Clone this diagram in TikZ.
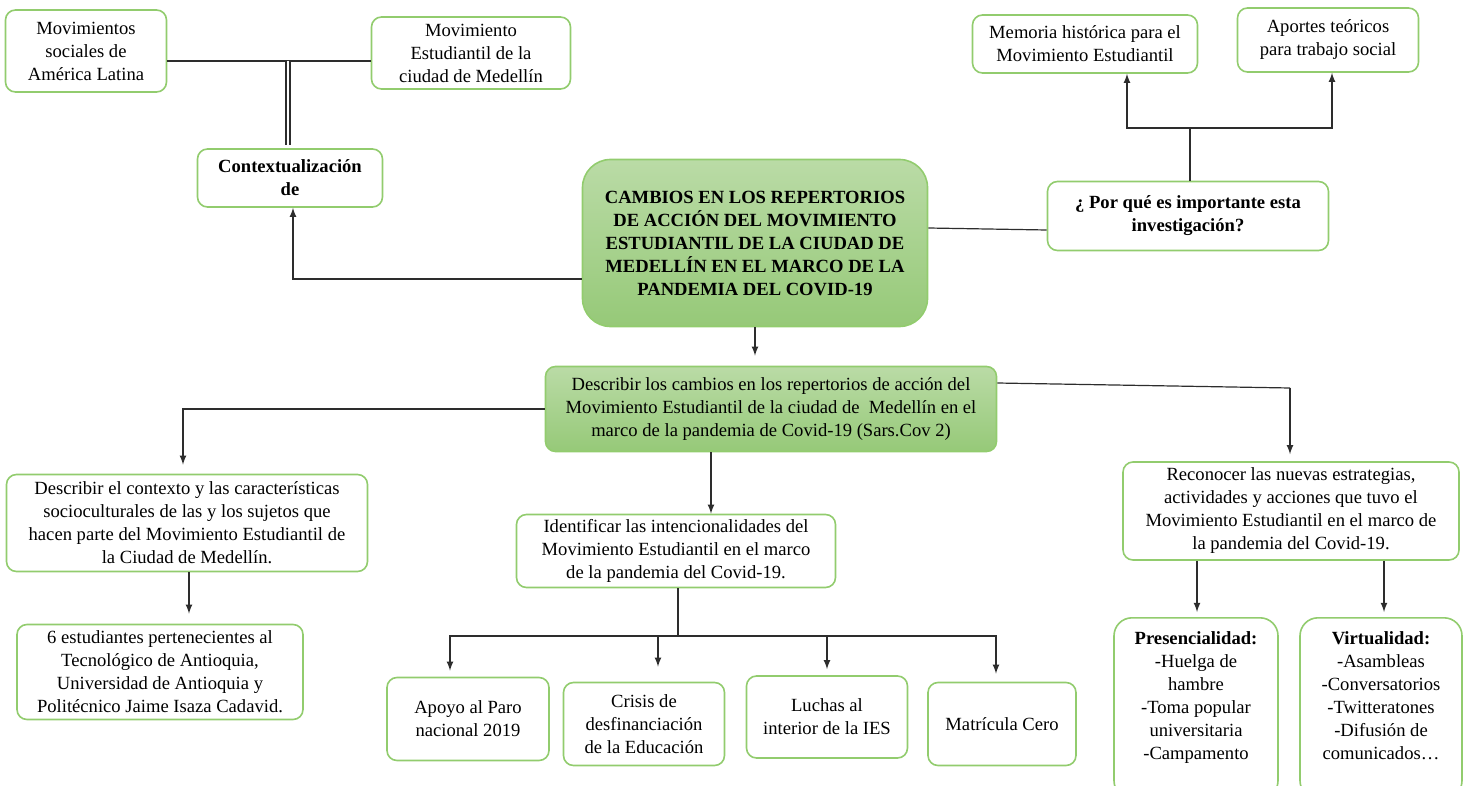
\documentclass[tikz,border=0pt]{standalone}
\usepackage{fontspec}
\setmainfont{Liberation Serif}
\usetikzlibrary{arrows}
\definecolor{boxgreen}{RGB}{146,204,110}
\definecolor{greentop}{RGB}{186,219,166}
\definecolor{greenbot}{RGB}{150,201,120}
\definecolor{linegray}{RGB}{45,45,45}
\tikzstyle{box} = [rectangle, rounded corners=5pt, draw=boxgreen, line width=0.8pt,
  fill=white, align=center, inner sep=0pt, font=\fontsize{9.3}{11.5}\selectfont]
\tikzstyle{greenbox} = [box, top color=greentop, bottom color=greenbot]
\tikzstyle{mainbox} = [greenbox, rounded corners=14pt]
\tikzstyle{tallbox} = [box, rounded corners=9pt, anchor=north, inner ysep=7pt, text depth=12.5pt]
\tikzstyle{link} = [draw=linegray, line width=0.6pt]
\tikzstyle{arrow} = [link, ->, >=latex]

\begin{document}
\begin{tikzpicture}[x=0.5pt, y=-0.5pt]
  \useasboundingbox (0,0) rectangle (1466,786);

  %% Central block
  \node (main) [mainbox, minimum width=172.5pt, minimum height=83.5pt] at (755,243)
    {\textbf{CAMBIOS EN LOS REPERTORIOS}\\ \textbf{DE ACCIÓN DEL MOVIMIENTO}\\
     \textbf{ESTUDIANTIL DE LA CIUDAD DE}\\ \textbf{MEDELLÍN EN EL MARCO DE LA}\\
     \textbf{PANDEMIA DEL COVID-19}};

  %% Context (left)
  \node (context) [box, minimum width=92.5pt, minimum height=29pt] at (290,178)
    {\textbf{Contextualización}\\ \textbf{de}};
  \node (movsoc) [box, minimum width=80.5pt, minimum height=41pt] at (86,51)
    {Movimientos\\ sociales de\\ América Latina};
  \node (movest) [box, minimum width=99.5pt, minimum height=36pt] at (471,53)
    {Movimiento\\ Estudiantil de la\\ ciudad de Medellín};

  %% Why (right)
  \node (porque) [box, minimum width=140.5pt, minimum height=34.5pt] at (1188,216)
    {\textbf{¿ Por qué es importante esta}\\ \textbf{investigación?}};
  \node (memoria) [box, minimum width=112.5pt, minimum height=29pt] at (1085,44)
    {Memoria histórica para el\\ Movimiento Estudiantil};
  \node (aportes) [box, minimum width=90.5pt, minimum height=32pt] at (1328,40)
    {Aportes teóricos\\ para trabajo social};

  %% General objective
  \node (describir) [greenbox, minimum width=225.5pt, minimum height=42.5pt] at (771,409)
    {Describir los cambios en los repertorios de acción del\\
     Movimiento Estudiantil de la ciudad de\ \ Medellín en el\\
     marco de la pandemia de Covid-19 (Sars.Cov 2)};

  %% Specific objectives
  \node (contexto) [box, minimum width=180.5pt, minimum height=48.5pt] at (187,523)
    {Describir el contexto y las características\\ socioculturales de las y los sujetos que\\
     hacen parte del Movimiento Estudiantil de\\ la Ciudad de Medellín.};
  \node (estudiantes) [box, minimum width=143pt, minimum height=47.5pt] at (160,672)
    {6 estudiantes pertenecientes al\\ Tecnológico de Antioquia,\\
     Universidad de Antioquia y\\ Politécnico Jaime Isaza Cadavid.};
  \node (identificar) [box, minimum width=159.5pt, minimum height=36.5pt] at (676,551)
    {Identificar las intencionalidades del\\ Movimiento Estudiantil en el marco\\
     de la pandemia del Covid-19.};
  \node (reconocer) [box, minimum width=168pt, minimum height=49pt] at (1291,511)
    {Reconocer las nuevas estrategias,\\ actividades y acciones que tuvo el\\
     Movimiento Estudiantil en el marco de\\ la pandemia del Covid-19.};

  %% Intentions
  \node (apoyo) [box, minimum width=81pt, minimum height=41.5pt] at (468,719)
    {Apoyo al Paro\\ nacional 2019};
  \node (crisis) [box, minimum width=80.5pt, minimum height=41.5pt] at (644,724)
    {Crisis de\\ desfinanciación\\ de la Educación};
  \node (luchas) [box, minimum width=80.5pt, minimum height=41pt] at (827,717)
    {Luchas al\\ interior de la IES};
  \node (matricula) [box, minimum width=74pt, minimum height=41.5pt] at (1002,724)
    {Matrícula Cero};

  %% Strategies
  \node (presencial) [tallbox, minimum width=82pt] at (1196,617)
    {\textbf{Presencialidad:}\\ -Huelga de\\ hambre\\ -Toma popular\\ universitaria\\ -Campamento};
  \node (virtual) [tallbox, minimum width=81pt] at (1381,617)
    {\textbf{Virtualidad:}\\ -Asambleas\\ -Conversatorios\\ -Twitteratones\\ -Difusión de\\ comunicados…};

  %% Connectors, context
  \coordinate (j1) at (288,61);
  \draw [link] ([yshift=-5pt]movsoc.east) -- ([yshift=-4pt]movest.west);
  \draw [link, double, double distance=1.4pt, shorten >=1.5pt] (j1) -- (context.north -| j1);
  \draw [arrow] ([yshift=-18pt]main.west) -| ([xshift=1.5pt]context.south);

  %% Connectors, why
  \coordinate (j2) at (1190,128);
  \draw [link] ([yshift=7.5pt]main.east) -- ([yshift=-7pt]porque.west);
  \draw [link] (porque.north -| j2) -- (j2);
  \draw [arrow] (j2) -| ([xshift=21pt]memoria.south);
  \draw [arrow] (j2) -| ([xshift=2pt]aportes.south);

  %% Connectors, objectives
  \draw [arrow, shorten >=5pt] (main.south) -- (main.south |- describir.north);
  \draw [arrow, shorten >=4.5pt] (describir.west) -| ([xshift=-2pt]contexto.north);
  \draw [arrow] ([xshift=-30pt]describir.south) -- ([xshift=17.5pt]identificar.north);
  \coordinate (j4) at (1290,388);
  \draw [link] ([yshift=13pt]describir.east) -- (j4);
  \draw [arrow, shorten >=3.5pt] (j4) -- (j4 |- reconocer.north);

  \draw [arrow, shorten >=5pt] ([xshift=1pt]contexto.south) -- ([xshift=1pt]contexto.south |- estudiantes.north);

  %% Connectors, intentions
  \coordinate (j5) at (678,636);
  \draw [link] ([xshift=1pt]identificar.south) -- (j5);
  \draw [arrow, shorten >=3pt] (j5) -| ([xshift=-9pt]apoyo.north);
  \draw [arrow, shorten >=7.5pt] (j5) -| ([xshift=7pt]crisis.north);
  \draw [arrow, shorten >=3pt] (j5) -| (luchas.north);
  \draw [arrow, shorten >=4pt] (j5) -| ([xshift=-3pt]matricula.north);

  %% Connectors, strategies
  \draw [arrow, shorten >=2.5pt] ([xshift=-47pt]reconocer.south) -- ([xshift=-47pt]reconocer.south |- presencial.north);
  \draw [arrow, shorten >=2.5pt] ([xshift=46.5pt]reconocer.south) -- ([xshift=46.5pt]reconocer.south |- virtual.north);

\end{tikzpicture}
\end{document}
